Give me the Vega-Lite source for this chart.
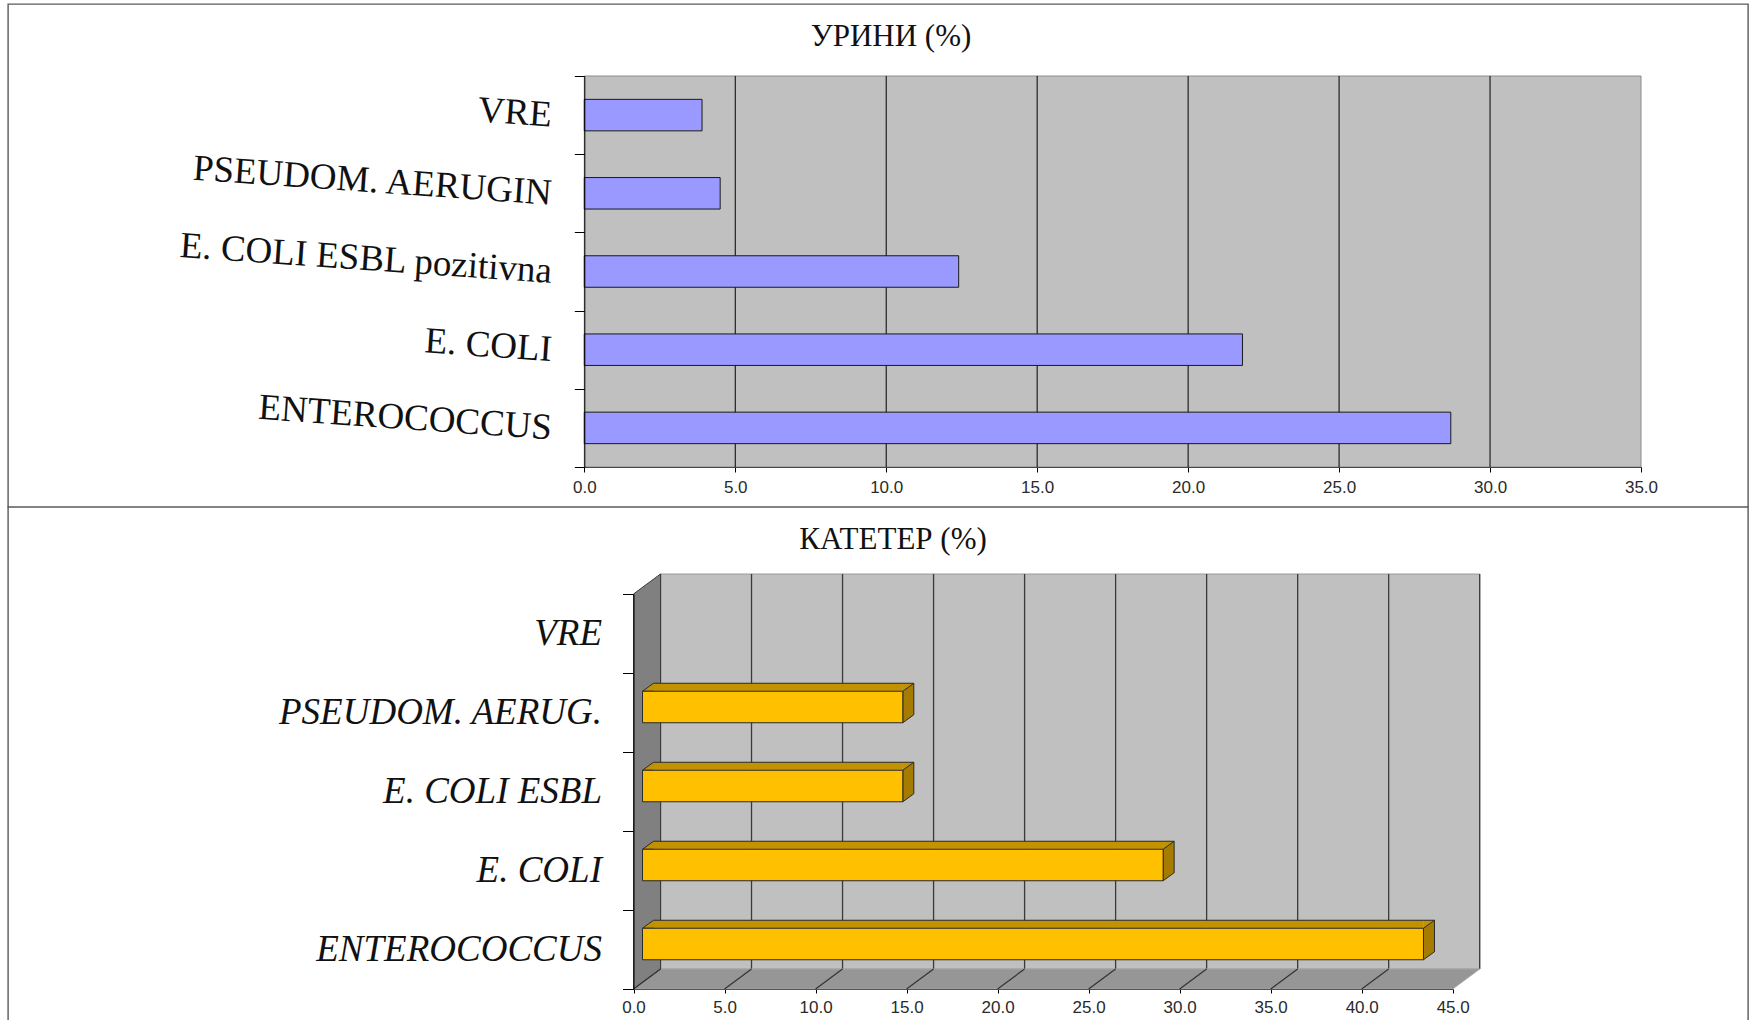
{
  "$schema": "https://vega.github.io/schema/vega-lite/v6.json",
  "background": "white",
  "padding": {"left": 7, "top": -16, "right": 0, "bottom": 0},
  "bounds": "flush",
  "spacing": 0,
  "datasets": {
    "urine": [
      {"organism": "VRE", "pct": 3.9},
      {"organism": "PSEUDOM. AERUGIN", "pct": 4.5},
      {"organism": "E. COLI ESBL pozitivna", "pct": 12.4},
      {"organism": "E. COLI", "pct": 21.8},
      {"organism": "ENTEROCOCCUS", "pct": 28.7}
    ],
    "catheter": [
      {"organism": "VRE", "pct": 0},
      {"organism": "PSEUDOM. AERUG.", "pct": 14.3},
      {"organism": "E. COLI ESBL", "pct": 14.3},
      {"organism": "E. COLI", "pct": 28.6},
      {"organism": "ENTEROCOCCUS", "pct": 42.9}
    ],
    "urineGrid": [{"v": 5}, {"v": 10}, {"v": 15}, {"v": 20}, {"v": 25}, {"v": 30}],
    "wallGrid": [{"v": 0}, {"v": 5}, {"v": 10}, {"v": 15}, {"v": 20}, {"v": 25}, {"v": 30}, {"v": 35}, {"v": 40}, {"v": 45}],
    "floorGrid": [{"v": 0}, {"v": 5}, {"v": 10}, {"v": 15}, {"v": 20}, {"v": 25}, {"v": 30}, {"v": 35}, {"v": 40}]
  },
  "vconcat": [
    {
      "width": 1740,
      "height": 503,
      "title": {"text": "УРИНИ (%)", "offset": -68, "dx": 13},
      "layer": [
        {
          "data": {"values": [{}]},
          "mark": {"type": "rect", "fill": "#C0C0C0", "stroke": "#8c8c8c", "strokeWidth": 1},
          "encoding": {
            "x": {"datum": 0, "type": "quantitative", "title": null, "scale": {"domain": [0, 35], "range": [576.3, 1633], "nice": false, "zero": false}},
            "x2": {"datum": 35, "title": null},
            "y": {"datum": "VRE", "type": "nominal", "bandPosition": 0, "title": null, "scale": {"domain": ["VRE", "PSEUDOM. AERUGIN", "E. COLI ESBL pozitivna", "E. COLI", "ENTEROCOCCUS"], "range": [72, 463], "paddingInner": 0, "paddingOuter": 0}},
            "y2": {"datum": "ENTEROCOCCUS", "bandPosition": 1, "title": null}
          }
        },
        {
          "data": {"name": "urineGrid"},
          "mark": {"type": "rule", "stroke": "#000000", "strokeWidth": 1},
          "encoding": {
            "x": {"field": "v", "type": "quantitative", "title": null, "scale": {"domain": [0, 35], "range": [576.3, 1633], "nice": false, "zero": false}},
            "y": {"datum": "VRE", "type": "nominal", "bandPosition": 0, "title": null, "scale": {"domain": ["VRE", "PSEUDOM. AERUGIN", "E. COLI ESBL pozitivna", "E. COLI", "ENTEROCOCCUS"], "range": [72, 463], "paddingInner": 0, "paddingOuter": 0}},
            "y2": {"datum": "ENTEROCOCCUS", "bandPosition": 1, "title": null}
          }
        },
        {
          "data": {"name": "urine"},
          "mark": {"type": "bar", "fill": "#9999FF", "stroke": "#1a1a1a", "strokeWidth": 1, "height": 31.5},
          "encoding": {
            "x": {
              "field": "pct", "type": "quantitative", "stack": null, "title": null,
              "scale": {"domain": [0, 35], "range": [576.3, 1633], "nice": false, "zero": false},
              "axis": {"values": [0, 5, 10, 15, 20, 25, 30, 35], "format": ".1f", "offset": -40, "tickSize": 5, "labelPadding": 7, "labelFlush": false}
            },
            "y": {
              "field": "organism", "type": "nominal", "title": null,
              "scale": {"domain": ["VRE", "PSEUDOM. AERUGIN", "E. COLI ESBL pozitivna", "E. COLI", "ENTEROCOCCUS"], "range": [72, 463], "paddingInner": 0, "paddingOuter": 0},
              "axis": {"offset": -576.3, "tickBand": "extent", "tickSize": 10, "labelPadding": 23, "labelAngle": 4, "labelAlign": "right", "labelBaseline": "middle"}
            }
          }
        }
      ]
    },
    {
      "width": 1740,
      "height": 516,
      "title": {"text": "КАТЕТЕР (%)", "offset": -68, "dx": 15},
      "layer": [
        {
          "data": {"values": [{}]},
          "mark": {"type": "rect", "fill": "#C0C0C0", "stroke": "#9a9a9a", "strokeWidth": 1, "xOffset": 27, "x2Offset": 27, "yOffset": -20, "y2Offset": -20},
          "encoding": {
            "x": {"datum": 0, "type": "quantitative", "title": null, "scale": {"domain": [0, 45], "range": [625.5, 1444.7], "nice": false, "zero": false}},
            "x2": {"datum": 45, "title": null},
            "y": {"datum": "VRE", "type": "nominal", "bandPosition": 0, "title": null, "scale": {"domain": ["VRE", "PSEUDOM. AERUG.", "E. COLI ESBL", "E. COLI", "ENTEROCOCCUS"], "range": [87, 482], "paddingInner": 0, "paddingOuter": 0}},
            "y2": {"datum": "ENTEROCOCCUS", "bandPosition": 1, "title": null}
          }
        },
        {
          "data": {"name": "wallGrid"},
          "mark": {"type": "rule", "stroke": "#3a3a3a", "strokeWidth": 1.3, "xOffset": 27, "yOffset": -20, "y2Offset": -20},
          "encoding": {
            "x": {"field": "v", "type": "quantitative", "title": null, "scale": {"domain": [0, 45], "range": [625.5, 1444.7], "nice": false, "zero": false}},
            "y": {"datum": "VRE", "type": "nominal", "bandPosition": 0, "title": null, "scale": {"domain": ["VRE", "PSEUDOM. AERUG.", "E. COLI ESBL", "E. COLI", "ENTEROCOCCUS"], "range": [87, 482], "paddingInner": 0, "paddingOuter": 0}},
            "y2": {"datum": "ENTEROCOCCUS", "bandPosition": 1, "title": null}
          }
        },
        {
          "data": {"values": [{}]},
          "mark": {"type": "point", "shape": "M0,0 L819.2,0 L846.2,-20 L27,-20 Z", "size": 4, "filled": true, "opacity": 1, "fill": "#969696", "stroke": "#a6a6a6", "strokeWidth": 1},
          "encoding": {
            "x": {"datum": 0, "type": "quantitative", "title": null, "scale": {"domain": [0, 45], "range": [625.5, 1444.7], "nice": false, "zero": false}},
            "y": {"datum": "ENTEROCOCCUS", "type": "nominal", "bandPosition": 1, "title": null, "scale": {"domain": ["VRE", "PSEUDOM. AERUG.", "E. COLI ESBL", "E. COLI", "ENTEROCOCCUS"], "range": [87, 482], "paddingInner": 0, "paddingOuter": 0}}
          }
        },
        {
          "data": {"values": [{}]},
          "mark": {"type": "point", "shape": "M0,0 L0,-395 L27,-415 L27,-20 Z", "size": 4, "filled": true, "opacity": 1, "fill": "#808080", "stroke": "#3a3a3a", "strokeWidth": 1},
          "encoding": {
            "x": {"datum": 0, "type": "quantitative", "title": null, "scale": {"domain": [0, 45], "range": [625.5, 1444.7], "nice": false, "zero": false}},
            "y": {"datum": "ENTEROCOCCUS", "type": "nominal", "bandPosition": 1, "title": null, "scale": {"domain": ["VRE", "PSEUDOM. AERUG.", "E. COLI ESBL", "E. COLI", "ENTEROCOCCUS"], "range": [87, 482], "paddingInner": 0, "paddingOuter": 0}}
          }
        },
        {
          "data": {"name": "floorGrid"},
          "mark": {"type": "point", "shape": "M0,0 L27,-20", "size": 4, "filled": false, "opacity": 1, "stroke": "#333333", "strokeWidth": 1.2},
          "encoding": {
            "x": {"field": "v", "type": "quantitative", "title": null, "scale": {"domain": [0, 45], "range": [625.5, 1444.7], "nice": false, "zero": false}},
            "y": {"datum": "ENTEROCOCCUS", "type": "nominal", "bandPosition": 1, "title": null, "scale": {"domain": ["VRE", "PSEUDOM. AERUG.", "E. COLI ESBL", "E. COLI", "ENTEROCOCCUS"], "range": [87, 482], "paddingInner": 0, "paddingOuter": 0}}
          }
        },
        {
          "data": {"name": "catheter"},
          "transform": [{"filter": "datum.pct > 0"}],
          "mark": {"type": "bar", "fill": "#C29200", "strokeWidth": 0, "height": 8, "xOffset": 9, "x2Offset": 20, "yOffset": -25.25},
          "encoding": {
            "x": {"field": "pct", "type": "quantitative", "title": null, "scale": {"domain": [0, 45], "range": [625.5, 1444.7], "nice": false, "zero": false}},
            "x2": {"datum": 0, "title": null},
            "y": {"field": "organism", "type": "nominal", "title": null, "scale": {"domain": ["VRE", "PSEUDOM. AERUG.", "E. COLI ESBL", "E. COLI", "ENTEROCOCCUS"], "range": [87, 482], "paddingInner": 0, "paddingOuter": 0}}
          }
        },
        {
          "data": {"name": "catheter"},
          "transform": [{"filter": "datum.pct > 0"}],
          "mark": {"type": "point", "shape": "M11,-8 L0,0 L11,0", "size": 4, "filled": true, "opacity": 1, "fill": "#C29200", "stroke": "#2a2a2a", "strokeWidth": 1, "xOffset": 9, "yOffset": -21.25},
          "encoding": {
            "x": {"datum": 0, "type": "quantitative", "title": null, "scale": {"domain": [0, 45], "range": [625.5, 1444.7], "nice": false, "zero": false}},
            "y": {"field": "organism", "type": "nominal", "title": null, "scale": {"domain": ["VRE", "PSEUDOM. AERUG.", "E. COLI ESBL", "E. COLI", "ENTEROCOCCUS"], "range": [87, 482], "paddingInner": 0, "paddingOuter": 0}}
          }
        },
        {
          "data": {"name": "catheter"},
          "transform": [{"filter": "datum.pct > 0"}],
          "mark": {"type": "point", "shape": "M0,0 L11,-8 L0,-8 Z", "size": 4, "filled": true, "opacity": 1, "fill": "#C29200", "strokeWidth": 0, "xOffset": 9, "yOffset": -21.25},
          "encoding": {
            "x": {"field": "pct", "type": "quantitative", "title": null, "scale": {"domain": [0, 45], "range": [625.5, 1444.7], "nice": false, "zero": false}},
            "y": {"field": "organism", "type": "nominal", "title": null, "scale": {"domain": ["VRE", "PSEUDOM. AERUG.", "E. COLI ESBL", "E. COLI", "ENTEROCOCCUS"], "range": [87, 482], "paddingInner": 0, "paddingOuter": 0}}
          }
        },
        {
          "data": {"name": "catheter"},
          "transform": [{"filter": "datum.pct > 0"}],
          "mark": {"type": "point", "shape": "M0,0 L11,-8 L11,23.5 L0,31.5 Z", "size": 4, "filled": true, "opacity": 1, "fill": "#A57C00", "stroke": "#2a2a2a", "strokeWidth": 1, "xOffset": 9, "yOffset": -21.25},
          "encoding": {
            "x": {"field": "pct", "type": "quantitative", "title": null, "scale": {"domain": [0, 45], "range": [625.5, 1444.7], "nice": false, "zero": false}},
            "y": {"field": "organism", "type": "nominal", "title": null, "scale": {"domain": ["VRE", "PSEUDOM. AERUG.", "E. COLI ESBL", "E. COLI", "ENTEROCOCCUS"], "range": [87, 482], "paddingInner": 0, "paddingOuter": 0}}
          }
        },
        {
          "data": {"name": "catheter"},
          "transform": [{"filter": "datum.pct > 0"}],
          "mark": {"type": "rule", "stroke": "#2a2a2a", "strokeWidth": 1, "xOffset": 20, "x2Offset": 20, "yOffset": -29.25},
          "encoding": {
            "x": {"field": "pct", "type": "quantitative", "title": null, "scale": {"domain": [0, 45], "range": [625.5, 1444.7], "nice": false, "zero": false}},
            "x2": {"datum": 0, "title": null},
            "y": {"field": "organism", "type": "nominal", "title": null, "scale": {"domain": ["VRE", "PSEUDOM. AERUG.", "E. COLI ESBL", "E. COLI", "ENTEROCOCCUS"], "range": [87, 482], "paddingInner": 0, "paddingOuter": 0}}
          }
        },
        {
          "data": {"name": "catheter"},
          "transform": [{"filter": "datum.pct > 0"}],
          "mark": {"type": "bar", "fill": "#FFC000", "stroke": "#2a2a2a", "strokeWidth": 1, "height": 31.5, "xOffset": 9, "x2Offset": 9, "yOffset": -5.5},
          "encoding": {
            "x": {
              "field": "pct", "type": "quantitative", "title": null,
              "scale": {"domain": [0, 45], "range": [625.5, 1444.7], "nice": false, "zero": false},
              "axis": {"values": [0, 5, 10, 15, 20, 25, 30, 35, 40, 45], "format": ".1f", "offset": -34, "tickSize": 4, "labelPadding": 6, "labelFlush": false}
            },
            "x2": {"datum": 0, "title": null},
            "y": {
              "field": "organism", "type": "nominal", "title": null,
              "scale": {"domain": ["VRE", "PSEUDOM. AERUG.", "E. COLI ESBL", "E. COLI", "ENTEROCOCCUS"], "range": [87, 482], "paddingInner": 0, "paddingOuter": 0},
              "axis": {"offset": -625.5, "tickBand": "extent", "tickSize": 11, "labelPadding": 21, "labelAngle": 0, "labelAlign": "right", "labelBaseline": "middle", "labelFontStyle": "italic"}
            }
          }
        }
      ]
    }
  ],
  "config": {
    "view": {"stroke": "#5a5a5a", "strokeWidth": 1.4, "fill": "white"},
    "axis": {"domainColor": "#000000", "domainWidth": 1, "tickColor": "#000000", "tickWidth": 1, "grid": false, "labelColor": "#111111"},
    "axisX": {"labelFont": "Liberation Sans", "labelFontSize": 17, "labelColor": "#2a2a2a"},
    "axisY": {"labelFont": "Liberation Serif", "labelFontSize": 37, "labelLimit": 700},
    "title": {"font": "Liberation Serif", "fontSize": 31, "fontWeight": "normal", "color": "#111111", "anchor": "middle", "frame": "group"}
  }
}
